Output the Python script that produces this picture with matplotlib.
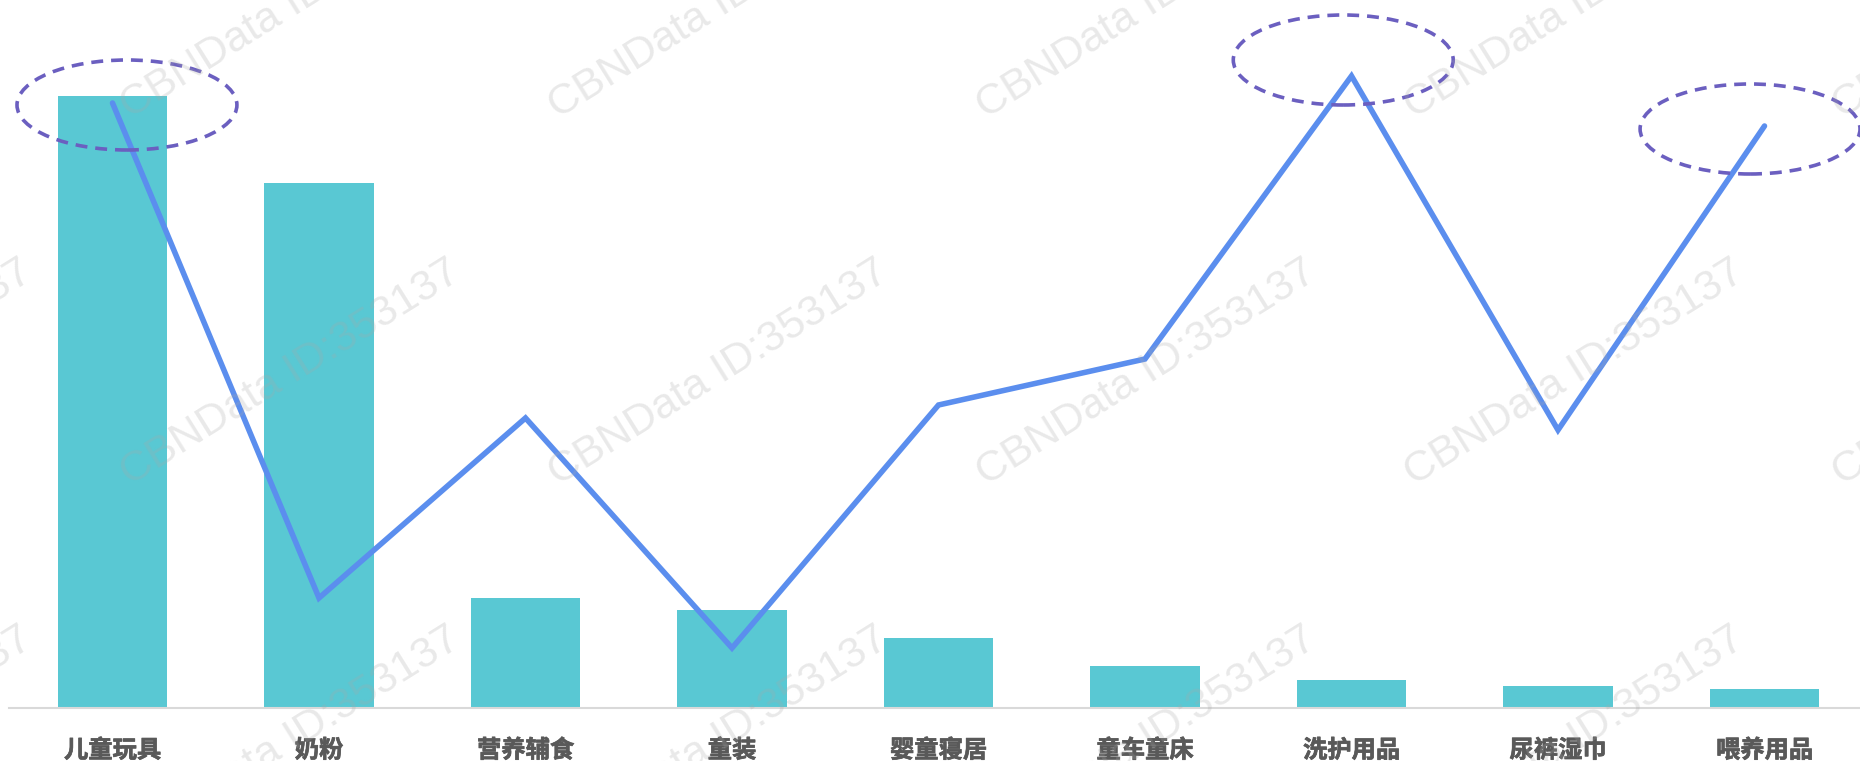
import matplotlib.pyplot as plt
import matplotlib.patheffects as pe
from matplotlib.patches import Ellipse
import numpy as np

# Data (relative units)
categories = ["儿童玩具", "奶粉", "营养辅食", "童装", "婴童寝居", "童车童床", "洗护用品", "尿裤湿巾", "喂养用品"]
bar_vals = [612, 525, 110, 98, 70, 42, 28, 22, 19]
line_vals = [605, 110, 290, 60, 303, 349, 632, 278, 582]
highlight_idx = [0, 6, 8]

BAR_COLOR = "#59C8D3"
LINE_COLOR = "#5B8EEE"
ELLIPSE_COLOR = "#6B5FC0"
LABEL_COLOR = "#595959"

W, H = 1860, 761
fig = plt.figure(figsize=(W / 100, H / 100), dpi=100)
step = 206.5
left_px = 112.5 - step / 2
ax = fig.add_axes([left_px / W, 53 / H, 9 * step / W, 708 / H])

x = np.arange(len(categories))
ax.bar(x, bar_vals, width=0.53, color=BAR_COLOR, zorder=2)
ax.plot(x, line_vals, color=LINE_COLOR, lw=4.0, solid_capstyle="round",
        solid_joinstyle="miter", zorder=3, clip_on=False)

# dashed ellipses around the highlighted points
for i, dx, dy in zip(highlight_idx, [0.07, -0.04, -0.07], [-2, 16, -3]):
    e = Ellipse((i + dx, line_vals[i] + dy), width=1.065, height=90, fill=False,
                edgecolor=ELLIPSE_COLOR, lw=2.6, linestyle=(0, (3.3, 2.2)),
                zorder=4, clip_on=False)
    ax.add_patch(e)

ax.set_xlim(-0.5, len(categories) - 0.5)
ax.set_ylim(0, 708)
ax.set_xticks(x)
ax.set_xticklabels(categories, fontsize=17.5, fontweight="bold", color=LABEL_COLOR,
                   family=["Noto Sans CJK SC", "DejaVu Sans"])
for lbl in ax.get_xticklabels():
    lbl.set_path_effects([pe.withStroke(linewidth=0.5, foreground=LABEL_COLOR)])
ax.tick_params(axis="x", length=0, pad=22)
ax.set_yticks([])
for s in ["top", "right", "left"]:
    ax.spines[s].set_visible(False)
ax.spines["bottom"].set_color("#d9d9d9")
ax.spines["bottom"].set_linewidth(1.5)

# watermark grid
for row_y in [119, 486, 853]:
    for k in range(-1, 5):
        fig.text((130 + 428 * k) / W, 1 - row_y / H, "CBNData ID:353137",
                 rotation=32, rotation_mode="anchor", ha="left", va="baseline",
                 fontsize=31, family="Liberation Sans", color="#a8a8a8",
                 alpha=0.25, zorder=10)

fig.savefig("out.png", dpi=100)
